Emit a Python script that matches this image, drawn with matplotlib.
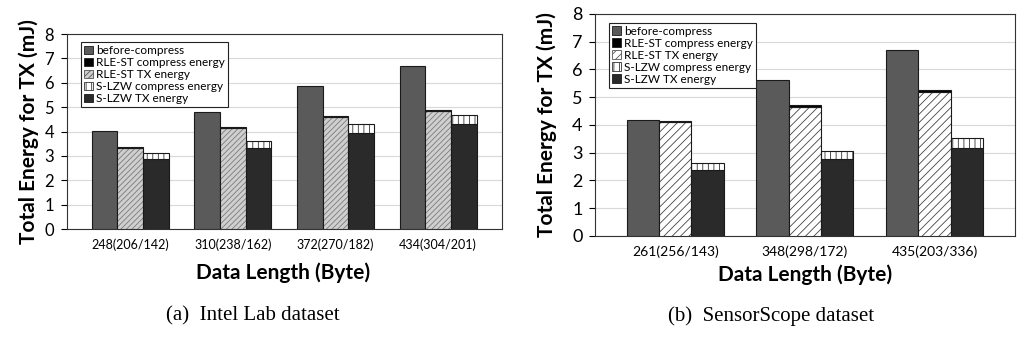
import numpy as np
import matplotlib
matplotlib.use('Agg')
from matplotlib import pyplot as plt
from matplotlib.patches import Patch

plt.rcParams['font.family'] = ['Lato', 'DejaVu Sans']
plt.rcParams['hatch.linewidth'] = 0.6

# (a) Intel Lab
LABELS_A = ['248(206/142)', '310(238/162)', '372(270/182)', '434(304/201)']
BEFORE_A = [4.01, 4.82, 5.88, 6.70]
RLE_TX_A = [3.31, 4.13, 4.61, 4.84]
RLE_CMP_A = [0.05, 0.04, 0.04, 0.06]
LZW_TX_A = [2.87, 3.31, 3.95, 4.32]
LZW_CMP_A = [0.25, 0.30, 0.35, 0.36]

# (b) SensorScope
LABELS_B = ['261(256/143)', '348(298/172)', '435(203/336)']
BEFORE_B = [4.19, 5.60, 6.71]
RLE_TX_B = [4.09, 4.66, 5.19]
RLE_CMP_B = [0.05, 0.06, 0.06]
LZW_TX_B = [2.38, 2.78, 3.16]
LZW_CMP_B = [0.24, 0.29, 0.37]

LEGEND = ['before-compress', 'RLE-ST compress energy', 'RLE-ST TX energy',
          'S-LZW compress energy', 'S-LZW TX energy']

EDGE = '#1a1a1a'
W = 0.25


def draw(ax, labels, before, rle_tx, rle_cmp, lzw_tx, lzw_cmp, rle_hatch, rle_face, rle_hcol,
         tick_fs, xtick_fs):
    x = np.arange(len(labels))
    ax.bar(x - W, before, W, color='#5a5a5a', edgecolor=EDGE, lw=0.8, zorder=3)
    # RLE-ST TX: hatch layer, then outline
    ax.bar(x, rle_tx, W, color=rle_face, edgecolor=rle_hcol, hatch=rle_hatch, lw=0, zorder=3)
    ax.bar(x, rle_tx, W, fill=False, edgecolor=EDGE, lw=0.8, zorder=4)
    ax.bar(x, rle_cmp, W, bottom=rle_tx, color='black', edgecolor=EDGE, lw=0.8, zorder=3)
    ax.bar(x + W, lzw_tx, W, color='#2a2a2a', edgecolor=EDGE, lw=0.8, zorder=3)
    ax.bar(x + W, lzw_cmp, W, bottom=lzw_tx, color='white', edgecolor='#333333',
           hatch='|||', lw=0, zorder=3)
    ax.bar(x + W, lzw_cmp, W, bottom=lzw_tx, fill=False, edgecolor=EDGE, lw=0.8, zorder=4)

    proxies = [
        Patch(facecolor='#5a5a5a', edgecolor=EDGE, lw=0.6),
        Patch(facecolor='black', edgecolor=EDGE, lw=0.6),
        Patch(facecolor=rle_face, edgecolor='#555555', hatch=rle_hatch, lw=0.6),
        Patch(facecolor='white', edgecolor='#333333', hatch='|||', lw=0.6),
        Patch(facecolor='#2a2a2a', edgecolor=EDGE, lw=0.6),
    ]
    leg = ax.legend(proxies, LEGEND, loc='upper left', bbox_to_anchor=(0.028, 0.97),
                    fontsize=8.5, frameon=True, fancybox=False, framealpha=1,
                    handlelength=0.75, handleheight=0.75, handletextpad=0.25,
                    labelspacing=0.08, borderpad=0.25, borderaxespad=0.2)
    leg.get_frame().set_edgecolor('#222222')
    leg.get_frame().set_linewidth(0.8)
    leg.set_zorder(6)

    ax.set_xlim(-0.62, len(labels) - 1 + 0.62)
    ax.set_ylim(0, 8)
    ax.set_yticks(range(0, 9))
    ax.set_xticks(x)
    ax.set_xticklabels(labels, fontsize=xtick_fs)
    ax.tick_params(axis='x', length=0, pad=7)
    ax.tick_params(axis='y', labelsize=tick_fs, length=4, width=0.8, direction='out', pad=5)
    ax.yaxis.grid(True, color='#d9d9d9', lw=0.8, zorder=0)
    ax.set_axisbelow(True)
    for s in ax.spines.values():
        s.set_color('#333333')
        s.set_linewidth(0.8)


fig = plt.figure(figsize=(10.24, 3.37), dpi=100)

ax1 = fig.add_axes([0.065, 0.320, 0.425, 0.579])
draw(ax1, LABELS_A, BEFORE_A, RLE_TX_A, RLE_CMP_A, LZW_TX_A, LZW_CMP_A,
     '//////', '#cfcfcf', '#7a7a7a', 12, 9)
ax1.set_ylabel('Total Energy for TX (mJ)', fontsize=15, fontweight='bold', labelpad=4)

ax2 = fig.add_axes([0.581, 0.300, 0.410, 0.659])
draw(ax2, LABELS_B, BEFORE_B, RLE_TX_B, RLE_CMP_B, LZW_TX_B, LZW_CMP_B,
     '////', 'white', '#444444', 13, 10)
ax2.set_ylabel('Total Energy for TX (mJ)', fontsize=15, fontweight='bold', labelpad=11)

fig.text(0.276, 0.192, 'Data Length (Byte)', fontsize=15, fontweight='bold',
         ha='center', va='center')
fig.text(0.786, 0.186, 'Data Length (Byte)', fontsize=15, fontweight='bold',
         ha='center', va='center')
fig.text(0.247, 0.062, '(a)  Intel Lab dataset', fontsize=15, family='Liberation Serif',
         ha='center', va='center')
fig.text(0.753, 0.062, '(b)  SensorScope dataset', fontsize=15, family='Liberation Serif',
         ha='center', va='center')

fig.savefig('out.png', dpi=100)
